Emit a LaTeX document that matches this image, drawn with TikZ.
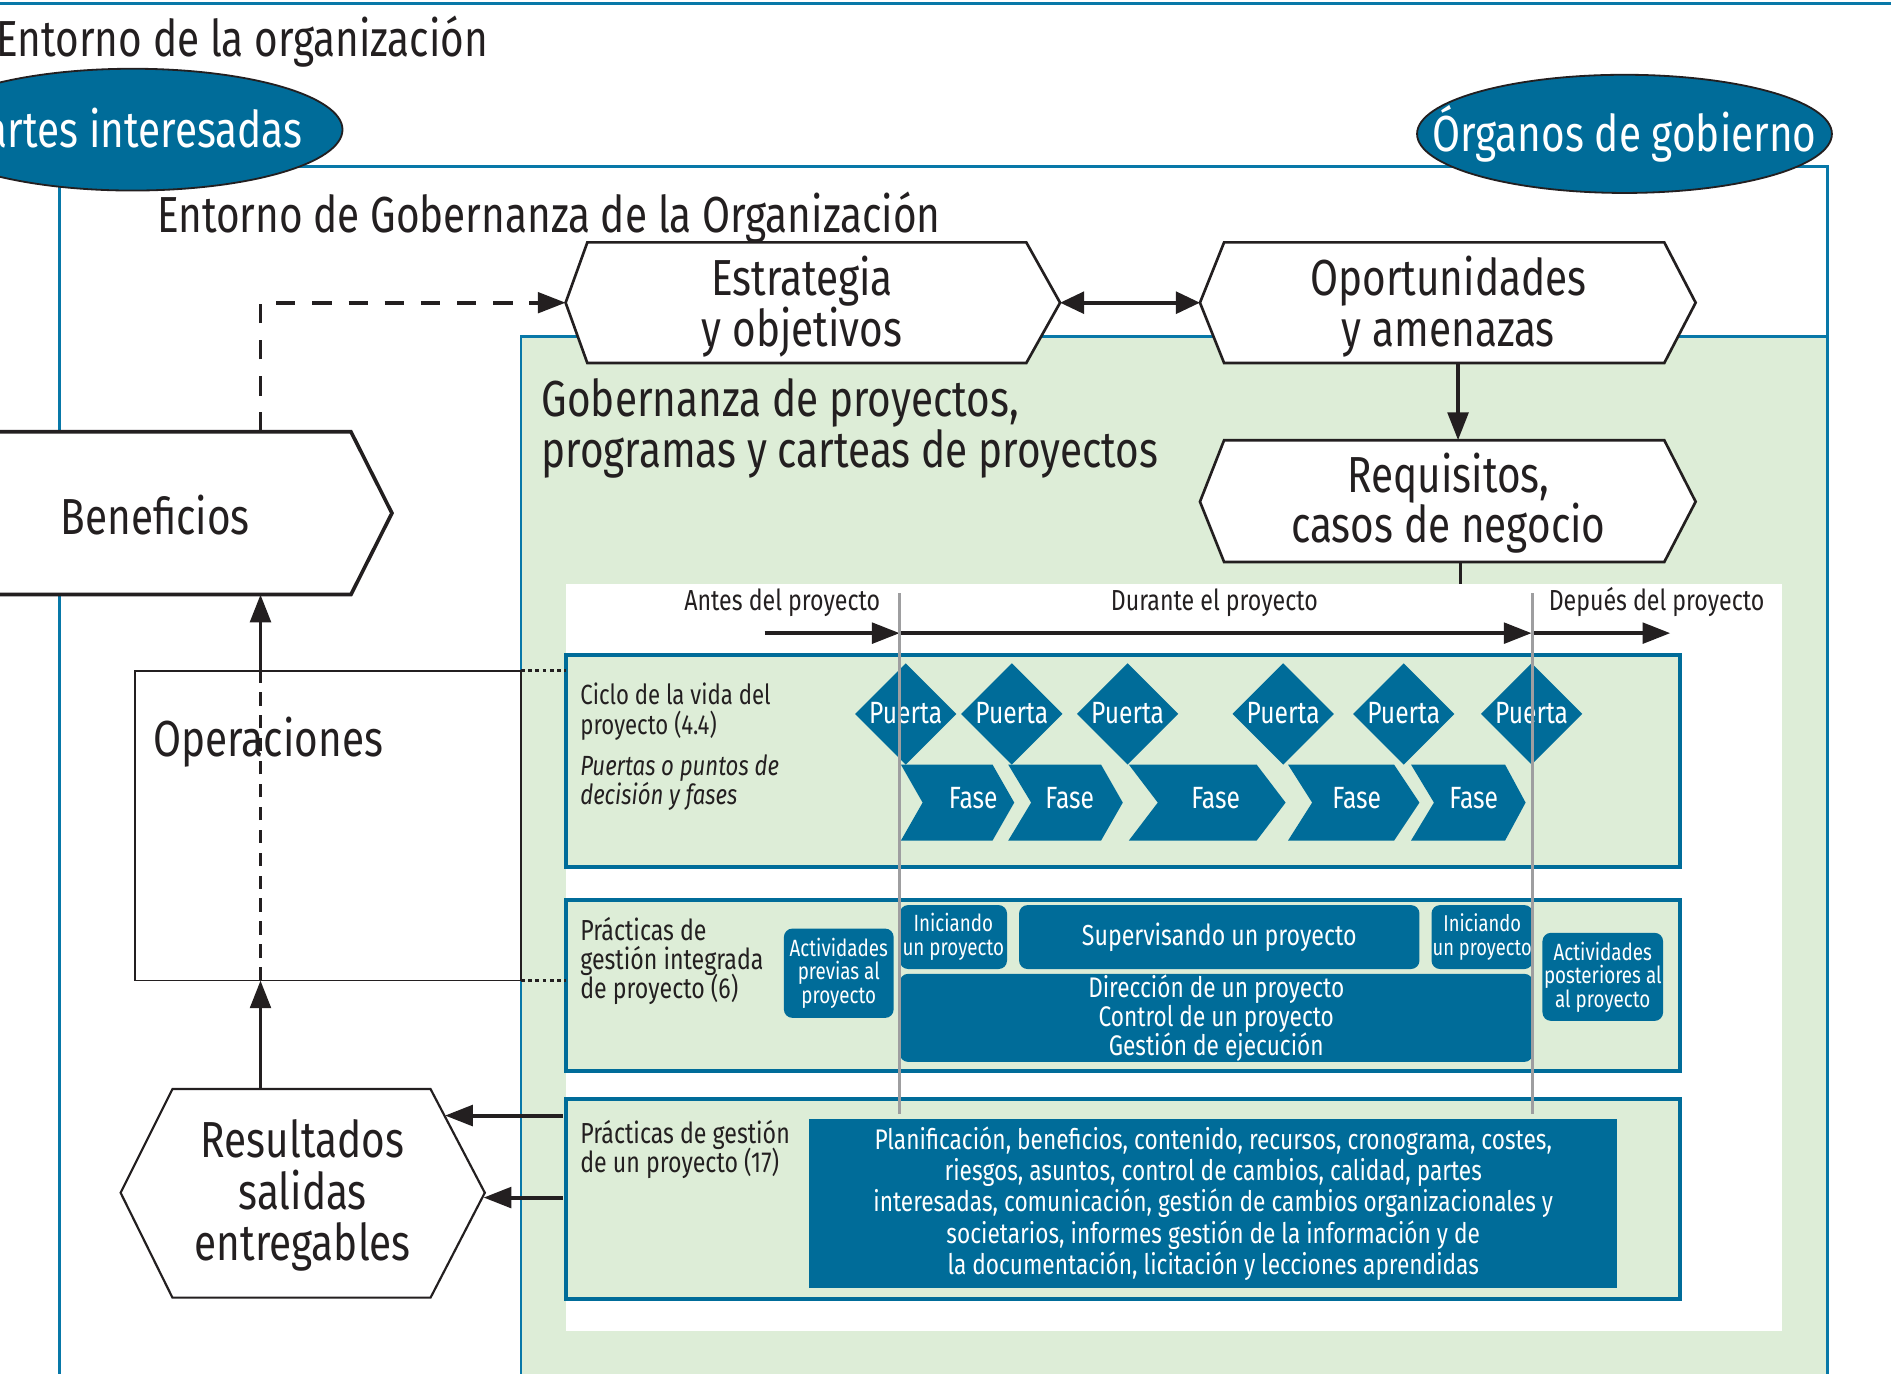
\documentclass[tikz,border=0pt]{standalone}
\usepackage{fontspec}
\setmainfont{Fira Sans}[FakeStretch=0.8]
\usetikzlibrary{arrows.meta,shapes.geometric}
\definecolor{dblue}{RGB}{0,108,153}
\definecolor{fblue}{RGB}{8,120,168}
\definecolor{lgreen}{RGB}{221,237,215}
\definecolor{gline}{RGB}{158,158,160}
\definecolor{ink}{RGB}{35,31,32}
\tikzset{
  big/.style={font=\fontsize{42}{43}\selectfont, text=ink, inner sep=0},
  wbig/.style={font=\fontsize{42}{43}\selectfont, text=white, inner sep=0},
  med/.style={font=\fontsize{24}{26}\selectfont, text=ink, inner sep=0},
  wmed/.style={font=\fontsize{25.5}{26}\selectfont, text=white, inner sep=0},
  blk/.style={fill=dblue, text=white, rounded corners=7, inner sep=0, align=center},
  hexa/.style={fill=white, draw=ink, line width=2.2, line join=miter},
  boxb/.style={fill=lgreen, draw=dblue, line width=3.5},
  arr/.style={draw=ink, line width=3.3, -{Triangle[length=23pt,width=17pt]}},
  dbl/.style={draw=ink, line width=3.3, {Triangle[length=20pt,width=18pt]}-{Triangle[length=20pt,width=18pt]}},
  dashln/.style={draw=ink, line width=3, dash pattern=on 16pt off 14pt},
  dashin/.style={draw=ink, line width=3, dash pattern=on 11pt off 8pt},
  dotln/.style={draw=ink, line width=3, dash pattern=on 3pt off 3pt},
}
\begin{document}
\begin{tikzpicture}[x=1pt,y=-1pt]
\clip (0,0) rectangle (1568,1139);
\fill[white] (0,0) rectangle (1568,1139);

% top line
\draw[fblue, line width=3] (0,3) -- (1568,3);

% green governance region
\filldraw[fill=lgreen, draw=fblue, line width=2] (432,1150) -- (432,279) -- (1515,279) -- (1515,1150);
% outer governance frame
\draw[fblue, line width=2.5] (49,1150) -- (49,138) -- (1515,138) -- (1515,1150);

% titles
\node[big, anchor=base west] (t1) at (-3,47) {Entorno de la organización};
\node[big, anchor=base west] (t2) at (130,193) {Entorno de Gobernanza de la Organización};
\node[big, anchor=base west] (t3a) at (449,345) {Gobernanza de proyectos,};
\node[big, anchor=base west] (t3b) at (449,388) {programas y carteas de proyectos};

% ellipses
\node[ellipse, draw=ink, line width=1.5, fill=dblue, minimum width=348, minimum height=101, inner sep=0] (partes) at (110,107.5) {};
\node[wbig, anchor=base east] (partesT) at (251,122) {Partes interesadas};
\node[ellipse, draw=ink, line width=1.5, fill=dblue, minimum width=344, minimum height=98, inner sep=0] (organos) at (1347,111) {};
\node[wbig, anchor=base] (organosT) at (1347,126) {Órganos de gobierno};

% hexagons
\filldraw[hexa] (469,251) -- (487,201) -- (851,201) -- (879,251) -- (851,301) -- (487,301) -- cycle;
\node[big, anchor=base] (est1) at (665,245) {Estrategia};
\node[big, anchor=base] (est2) at (665,287) {y objetivos};
\coordinate (estL) at (469,251);
\coordinate (estR) at (879,251);

\filldraw[hexa] (995,251) -- (1015,201) -- (1380,201) -- (1406,251) -- (1380,301) -- (1015,301) -- cycle;
\node[big, anchor=base] (opo1) at (1201,245) {Oportunidades};
\node[big, anchor=base] (opo2) at (1201,287) {y amenazas};
\coordinate (opoL) at (995,251);
\coordinate (opoB) at (1209,301);

\filldraw[hexa] (995,416) -- (1015,365) -- (1380,365) -- (1406,416) -- (1380,466) -- (1015,466) -- cycle;
\node[big, anchor=base] (req1) at (1201,408) {Requisitos,};
\node[big, anchor=base] (req2) at (1201,450) {casos de negocio};
\coordinate (reqT) at (1209,365);
\coordinate (reqB) at (1211,466);

\draw[dbl] (estR) -- (opoL);
\draw[arr] (opoB) -- (reqT);

% white panel
\fill[white] (469,484) rectangle (1478,1104);
\coordinate (panelT) at (1211,484);
\draw[ink, line width=3] (reqB) -- (panelT);

% timeline
\node[med, anchor=base east] (ante) at (730,506) {Antes del proyecto};
\node[med, anchor=base] (dur) at (1007,506) {Durante el proyecto};
\node[med, anchor=base west] (desp) at (1284,506) {Depués del proyecto};
\coordinate (tl0) at (634,525);
\coordinate (tl1) at (746,525);
\coordinate (tl2) at (1270,525);
\coordinate (tl3) at (1385,525);
\draw[arr] (tl0) -- (tl1);
\draw[arr] (tl1) -- (tl2);
\draw[arr] (tl2) -- (tl3);

% box 1
\filldraw[boxb] (469,543) rectangle (1393,719);
\node[med, anchor=base west, font=\fontsize{23}{24}\selectfont] (c1) at (481,584) {Ciclo de la vida del};
\node[med, anchor=base west, font=\fontsize{23}{24}\selectfont] (c2) at (481,609) {proyecto (4.4)};
\node[med, anchor=base west, font=\fontsize{23}{24}\selectfont\itshape] (c3) at (481,643) {Puertas o puntos de};
\node[med, anchor=base west, font=\fontsize{23}{24}\selectfont\itshape] (c4) at (481,667) {decisión y fases};
\foreach \cx [count=\i] in {751,839,935,1064,1164,1270} {
  \fill[dblue] (\cx-42,592) -- (\cx,550) -- (\cx+42,592) -- (\cx,634) -- cycle;
  \node[wmed, anchor=base] (gate\i) at (\cx,600) {Puerta};
}
\foreach \a/\n/\b/\t/\c [count=\i] in {747/765/823/841/807, 836/855/913/931/887, 936/960/1042/1066/1008, 1068/1088/1156/1177/1125, 1170/1189/1248/1265/1222} {
  \fill[dblue] (\a,634) -- (\b,634) -- (\t,665.5) -- (\b,697) -- (\a,697) -- (\n,665.5) -- cycle;
  \node[wmed, anchor=base] (phase\i) at (\c,670) {Fase};
}

% box 2
\filldraw[boxb] (469,746) rectangle (1393,888);
\node[med, anchor=base west] (p1) at (481,780) {Prácticas de};
\node[med, anchor=base west] (p2) at (481,804) {gestión integrada};
\node[med, anchor=base west] (p3) at (481,828) {de proyecto (6)};
\node[blk, minimum width=91, minimum height=74, font=\fontsize{19.5}{19.5}\selectfont] (prev) at (695.5,807) {Actividades\\previas al\\proyecto};
\node[blk, minimum width=89, minimum height=53, font=\fontsize{19.5}{20}\selectfont] (ini1) at (790.5,777) {Iniciando\\un proyecto};
\node[blk, minimum width=332, minimum height=53, font=\fontsize{24}{24}\selectfont] (sup) at (1011,777) {Supervisando un proyecto};
\node[blk, minimum width=84, minimum height=53, font=\fontsize{19}{20}\selectfont] (ini2) at (1229,777) {Iniciando\\un proyecto};
\node[blk, minimum width=525, minimum height=73, font=\fontsize{23.5}{24}\selectfont] (dir) at (1008.5,844) {Dirección de un proyecto\\Control de un proyecto\\Gestión de ejecución};
\node[blk, minimum width=100, minimum height=73, font=\fontsize{19.5}{19.5}\selectfont] (post) at (1329,810) {Actividades\\posteriores al\\al proyecto};

% box 3
\filldraw[boxb] (469,911) rectangle (1393,1077);
\node[med, anchor=base west] (q1) at (481,948) {Prácticas de gestión};
\node[med, anchor=base west] (q2) at (481,972) {de un proyecto (17)};
\node[blk, rounded corners=0, minimum width=670, minimum height=140, font=\fontsize{23.5}{26}\selectfont] (plan) at (1006,998) {Planificación, beneficios, contenido, recursos, cronograma, costes,\\riesgos, asuntos, control de cambios, calidad, partes\\interesadas, comunicación, gestión de cambios organizacionales y\\societarios, informes gestión de la información y de\\la documentación, licitación y lecciones aprendidas};

% gray phase lines
\draw[gline, line width=2.5] (746,492) -- (746,924);
\draw[gline, line width=2.5] (1271,492) -- (1271,924);

% Beneficios
\filldraw[fill=white, draw=ink, line width=3, line join=miter] (-10,358) -- (291,358) -- (325,425.5) -- (291,493) -- (-10,493);
\node[big, anchor=base west] (benef) at (50,443) {Beneficios};
\coordinate (benTop) at (216,358);
\coordinate (benBot) at (216,493);

% Operaciones
\filldraw[fill=white, draw=ink, line width=1.6] (112,556) rectangle (432,813);
\node[big, anchor=base west] (oper) at (127,627) {Operaciones};
\coordinate (opTop) at (216,556);
\coordinate (opBot) at (216,813);
\coordinate (opTR) at (432,556);
\coordinate (opBR) at (432,813);
\coordinate (b1L) at (469,556);
\coordinate (b2L) at (469,813);

% Resultados
\filldraw[fill=white, draw=ink, line width=1.8, line join=miter] (143,903) -- (357,903) -- (402,989) -- (357,1076) -- (143,1076) -- (100,989) -- cycle;
\node[big, anchor=base] (res1) at (251,960) {Resultados};
\node[big, anchor=base] (res2) at (251,1003) {salidas};
\node[big, anchor=base] (res3) at (251,1045) {entregables};
\coordinate (resTop) at (216,903);
\coordinate (resE1) at (369,925);
\coordinate (resE2) at (401,993);
\coordinate (b3L1) at (467,925);
\coordinate (b3L2) at (467,993);

% connectors
\draw[dashln, -{Triangle[length=23pt,width=17pt]}] (benTop) |- (estL);
\draw[arr] (resTop) -- (opBot);
\draw[dashin] (opBot) -- (opTop);
\draw[arr] (opTop) -- (benBot);
\draw[dotln] (opTR) -- (b1L);
\draw[dotln] (opBR) -- (b2L);
\draw[arr] (b3L1) -- (resE1);
\draw[arr] (b3L2) -- (resE2);
\end{tikzpicture}
\end{document}
